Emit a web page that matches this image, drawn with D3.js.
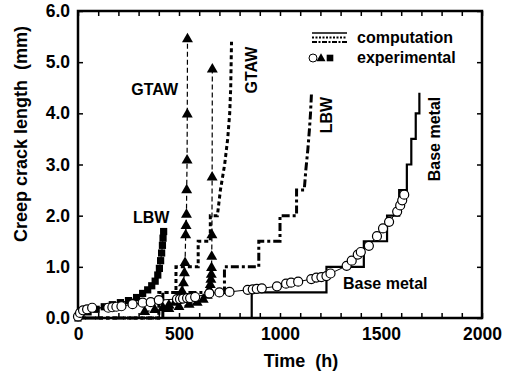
<!DOCTYPE html>
<meta charset="utf-8">
<style>
body { margin: 0; background: #fff; }
svg { font-family: "Liberation Sans", Arial, sans-serif; font-weight: bold; }
.tick line { stroke: #000; stroke-width: 1.5px; }
.tick text { font-size: 17.5px; fill: #000; }
.lbl { font-size: 16px; fill: #000; }
.title { font-size: 18px; fill: #000; }
</style>
<svg width="508" height="379"></svg>
<script src="https://cdn.jsdelivr.net/npm/d3@7"></script>
<script>
// tick values
var timeTicks = d3.range(0, 2001, 100);
var lengthTicks = [0, 1, 2, 3, 4, 5, 6];

// computation curves [time h, crack mm]
var baseComp = [[0,0],[860,0],[860,0.5],[1230,0.5],[1230,1.0],[1415,1.0],[1415,1.5],[1530,1.5],[1530,2.0],
  [1590,2.0],[1590,2.5],[1628,2.5],[1628,3.0],[1650,3.0],[1650,3.5],[1672,3.5],[1672,4.0],[1690,4.0],[1690,4.4]];
var gtawComp = [[0,0],[400,0],[400,0.5],[485,0.5],[485,1.0],[595,1.0],[595,1.5],[655,1.5],[655,2.0],[690,2.0],
  [705,2.5],[726,3.0],[741,3.5],[751,4.0],[756,4.5],[760,5.4]];
var lbwComp = [[0,0],[420,0],[420,0.5],[725,0.5],[725,1.0],[895,1.0],[895,1.5],[1000,1.5],[1000,2.0],[1082,2.0],
  [1082,2.5],[1120,2.5],[1128,2.9],[1138,3.3],[1146,3.7],[1151,4.0],[1156,4.4]];

// experimental data
var baseExp = [[0,0.03],[10,0.1],[25,0.15],[45,0.17],[70,0.2],[150,0.2],[170,0.21],[190,0.22],[215,0.23],
  [270,0.27],[320,0.3],[360,0.31],[400,0.35],[490,0.37],[505,0.37],[520,0.38],[540,0.39],[555,0.39],[580,0.41],
  [650,0.48],[700,0.5],[750,0.51],[840,0.55],[865,0.56],[885,0.57],[910,0.58],[985,0.62],[1030,0.67],[1055,0.69],
  [1090,0.71],[1155,0.76],[1180,0.79],[1205,0.8],[1230,0.82],[1250,0.87],[1330,1.02],[1355,1.12],[1385,1.24],
  [1400,1.29],[1440,1.41],[1480,1.6],[1510,1.75],[1540,1.88],[1580,2.08],[1595,2.2],[1605,2.3],[1615,2.41]];
var lbwExp = [[0,0.0],[15,0.06],[50,0.12],[90,0.17],[130,0.22],[170,0.26],[210,0.3],[250,0.34],[290,0.4],
  [320,0.48],[345,0.55],[365,0.63],[382,0.72],[395,0.84],[403,0.97],[409,1.12],[414,1.27],[418,1.42],
  [421,1.56],[424,1.69]];
var gtawExp1 = [[330,0.12],[380,0.16],[420,0.2],[450,0.25],[480,0.3],[500,0.4],[515,0.52],[522,0.68],[527,0.88],
  [530,1.08],[533,1.62],[535,1.8],[537,2.02],[538,2.5],[540,3.08],[541,3.98],[542,5.45]];
var gtawExp2 = [[450,0.18],[500,0.22],[550,0.26],[590,0.3],[620,0.36],[640,0.44],[650,0.55],[655,0.65],
  [658,0.75],[660,0.85],[661,0.98],[662,1.2],[663,1.62],[664,2.75],[665,4.86]];

var svg = d3.select("svg"),
    x = d3.scaleLinear().domain([0, 2000]).range([78, 482]),
    y = d3.scaleLinear().domain([0, 6]).range([318, 11]);

var line = d3.line()
    .x(function(d) { return x(d[0]); })
    .y(function(d) { return y(d[1]); });

// axes, ticks inward
svg.append("g")
    .attr("transform", "translate(0,318)")
    .call(d3.axisBottom(x).tickValues(timeTicks).tickSizeInner(-5).tickSizeOuter(0).tickPadding(10)
      .tickFormat(function(d) { return d % 500 === 0 ? d : ""; }));
svg.append("g")
    .attr("transform", "translate(0,11)")
    .call(d3.axisTop(x).tickValues(timeTicks).tickSizeInner(-5).tickSizeOuter(0).tickFormat(""));
svg.append("g")
    .attr("transform", "translate(78,0)")
    .call(d3.axisLeft(y).tickValues(lengthTicks).tickSizeInner(-5).tickSizeOuter(0).tickPadding(8)
      .tickFormat(d3.format(".1f")));
svg.append("g")
    .attr("transform", "translate(482,0)")
    .call(d3.axisRight(y).tickValues(lengthTicks).tickSizeInner(-5).tickSizeOuter(0).tickFormat(""));
svg.selectAll(".domain").remove();

svg.append("rect")
    .attr("x", 78).attr("y", 11).attr("width", 404).attr("height", 307)
    .attr("fill", "none").attr("stroke", "#000").attr("stroke-width", 2.5);

// computation
svg.append("path").datum(baseComp).attr("d", line)
    .attr("fill", "none").attr("stroke", "#000").attr("stroke-width", 2.2);
svg.append("path").datum(gtawComp).attr("d", line)
    .attr("fill", "none").attr("stroke", "#000").attr("stroke-width", 3).attr("stroke-dasharray", "4,3");
svg.append("path").datum(lbwComp).attr("d", line)
    .attr("fill", "none").attr("stroke", "#000").attr("stroke-width", 3).attr("stroke-dasharray", "8,3,3,3");

// experimental connectors
[gtawExp1, gtawExp2].forEach(function(s) {
  svg.append("path").datum(s).attr("d", line)
      .attr("fill", "none").attr("stroke", "#000").attr("stroke-width", 1.2).attr("stroke-dasharray", "5,3");
});
svg.append("path").datum(lbwExp).attr("d", line)
    .attr("fill", "none").attr("stroke", "#000").attr("stroke-width", 1);
svg.append("path").datum(baseExp).attr("d", line)
    .attr("fill", "none").attr("stroke", "#000").attr("stroke-width", 1);

var sq = d3.symbol(d3.symbolSquare).size(52),
    tri = d3.symbol(d3.symbolTriangle).size(52);

svg.selectAll(".sq").data(lbwExp).enter().append("path")
    .attr("class", "sq")
    .attr("transform", function(d) { return "translate(" + x(d[0]) + "," + y(d[1]) + ")"; })
    .attr("d", sq).attr("fill", "#000");
svg.selectAll(".tri").data(gtawExp1.concat(gtawExp2)).enter().append("path")
    .attr("class", "tri")
    .attr("transform", function(d) { return "translate(" + x(d[0]) + "," + y(d[1]) + ")"; })
    .attr("d", tri).attr("fill", "#000");
svg.selectAll(".circ").data(baseExp).enter().append("circle")
    .attr("class", "circ")
    .attr("cx", function(d) { return x(d[0]); })
    .attr("cy", function(d) { return y(d[1]); })
    .attr("r", 4.5)
    .attr("fill", "#fff").attr("stroke", "#000").attr("stroke-width", 1.2);

// legend
var lg = svg.append("g");
lg.append("line").attr("x1", 312).attr("x2", 347).attr("y1", 33).attr("y2", 33)
    .attr("stroke", "#000").attr("stroke-width", 1.5);
lg.append("line").attr("x1", 312).attr("x2", 347).attr("y1", 37.5).attr("y2", 37.5)
    .attr("stroke", "#000").attr("stroke-width", 2).attr("stroke-dasharray", "2,1.5");
lg.append("line").attr("x1", 312).attr("x2", 347).attr("y1", 42).attr("y2", 42)
    .attr("stroke", "#000").attr("stroke-width", 2).attr("stroke-dasharray", "5,1.5,2,1.5");
lg.append("text").attr("class", "lbl").attr("x", 357).attr("y", 43).text("computation");
lg.append("circle").attr("cx", 313).attr("cy", 58).attr("r", 4)
    .attr("fill", "#fff").attr("stroke", "#000").attr("stroke-width", 1);
lg.append("path").attr("transform", "translate(321,58.5)").attr("d", d3.symbol(d3.symbolTriangle).size(36)).attr("fill", "#000");
lg.append("path").attr("transform", "translate(330,58)").attr("d", d3.symbol(d3.symbolSquare).size(44)).attr("fill", "#000");
lg.append("text").attr("class", "lbl").attr("x", 357).attr("y", 63).text("experimental");

// annotations
svg.append("text").attr("class", "lbl").attr("x", 178).attr("y", 95).attr("text-anchor", "end").text("GTAW");
svg.append("text").attr("class", "lbl").attr("transform", "translate(257,70) rotate(-90)")
    .attr("text-anchor", "middle").text("GTAW");
svg.append("text").attr("class", "lbl").attr("x", 133).attr("y", 223).text("LBW");
svg.append("text").attr("class", "lbl").attr("transform", "translate(332,115) rotate(-90)")
    .attr("text-anchor", "middle").text("LBW");
svg.append("text").attr("class", "lbl").attr("transform", "translate(440,139) rotate(-90)")
    .attr("text-anchor", "middle").text("Base metal");
svg.append("text").attr("class", "lbl").attr("x", 343).attr("y", 289).text("Base metal");

// axis titles
svg.append("text").attr("class", "title").attr("x", 301).attr("y", 367)
    .attr("text-anchor", "middle").attr("xml:space", "preserve").text("Time  (h)");
svg.append("text").attr("class", "title").attr("transform", "translate(27,134) rotate(-90)")
    .attr("text-anchor", "middle").attr("xml:space", "preserve").text("Creep crack length  (mm)");
</script>
